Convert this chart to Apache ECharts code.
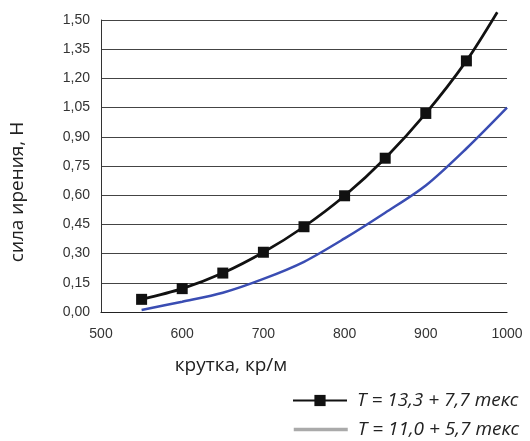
<!DOCTYPE html>
<html><head><meta charset="utf-8">
<script src="https://cdn.jsdelivr.net/npm/echarts@6/dist/echarts.min.js"></script>
<style>html,body{margin:0;padding:0;background:#fff}#c{width:530px;height:441px}</style>
</head><body><div id="c"></div>
<script>
const xTicks = [500, 600, 700, 800, 900, 1000];
const seriesNames = ['T = 13,3 + 7,7 текс', 'T = 11,0 + 5,7 текс'];
const blackX = [550, 600, 650, 700, 750, 800, 850, 900, 950, 988];
const blackY = [0.065, 0.12, 0.20, 0.307, 0.438, 0.597, 0.79, 1.02, 1.29, 1.54];
const blueX = [550, 600, 650, 700, 750, 800, 850, 900, 950, 1000];
const blueY = [0.01, 0.053, 0.099, 0.17, 0.258, 0.378, 0.51, 0.65, 0.84, 1.05];

const chart = echarts.init(document.getElementById('c'), null, {renderer: 'canvas'});
const blackData = blackX.map((x, i) => {
  const d = {value: [x, blackY[i]]};
  if (i === blackX.length - 1) d.symbol = 'none';
  return d;
});
const legendText = {fontFamily: 'Open Sans', fontStyle: 'italic', fontSize: 19, color: '#222', padding: [0, 0, 0, 5]};
chart.setOption({
  animation: false,
  grid: {left: 101, right: 23, top: 20, bottom: 129},
  xAxis: {
    type: 'value', min: 500, max: 1000, interval: 100,
    axisLine: {show: true, lineStyle: {color: '#222', width: 1.2}},
    axisTick: {show: false},
    splitLine: {show: false},
    axisLabel: {color: '#333', fontFamily: 'Liberation Sans', fontSize: 14, margin: 15,
      formatter: v => xTicks.includes(v) ? String(v) : ''}
  },
  yAxis: {
    type: 'value', min: 0, max: 1.5, interval: 0.15,
    axisLine: {show: true, lineStyle: {color: '#333', width: 1}},
    axisTick: {show: false},
    splitLine: {show: true, lineStyle: {color: '#444', width: 1}},
    axisLabel: {color: '#333', fontFamily: 'Liberation Sans', fontSize: 14, margin: 11,
      formatter: v => v.toFixed(2).replace('.', ',')}
  },
  legend: [
    {
      left: 292, top: 391, padding: 0, itemWidth: 54, itemHeight: 14, itemGap: 4,
      textStyle: legendText,
      data: [{name: seriesNames[0]}]
    },
    {
      left: 292, top: 420, padding: 0, itemWidth: 54, itemHeight: 14, itemGap: 4,
      textStyle: legendText,
      data: [{name: seriesNames[1], itemStyle: {opacity: 0}, lineStyle: {color: '#aaa', width: 3.5, opacity: 1}}]
    }
  ],
  graphic: [
    {type: 'text', x: 231, y: 366, style: {text: 'крутка, кр/м', font: '19px "Open Sans"', fill: '#222', textAlign: 'center', textVerticalAlign: 'middle'}},
    {type: 'text', x: 18, y: 192, rotation: Math.PI / 2, style: {text: 'сила ирения, Н', font: '19px "Open Sans"', fill: '#222', textAlign: 'center', textVerticalAlign: 'middle'}}
  ],
  series: [
    {
      name: seriesNames[0], type: 'line', smooth: 0.3, clip: false,
      data: blackData,
      symbol: 'rect', symbolSize: 11,
      lineStyle: {color: '#111', width: 2.7},
      itemStyle: {color: '#111'}
    },
    {
      name: seriesNames[1], type: 'line', smooth: 0.3, showSymbol: false, symbol: 'none',
      data: blueX.map((x, i) => [x, blueY[i]]),
      lineStyle: {color: '#3a4db3', width: 2.5},
      itemStyle: {color: '#3a4db3'}
    }
  ]
});
</script></body></html>
